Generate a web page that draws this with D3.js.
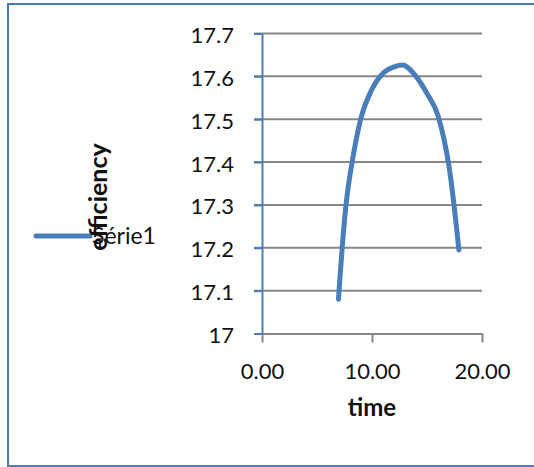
<!DOCTYPE html>
<html>
<head>
<meta charset="utf-8">
<script src="https://cdn.jsdelivr.net/npm/d3@7"></script>
<style>
  body { margin: 0; background: #fff; }
  text { font-family: Lato, "Open Sans", sans-serif; fill: #111; }
</style>
</head>
<body>
<div id="container"></div>
<script>
// DATA
const times = [6.95, 7.5, 8, 9, 10, 11, 12, 13, 14, 15, 16, 17, 17.9];
const efficiency = [17.08, 17.265, 17.37, 17.503, 17.57, 17.607, 17.622, 17.625, 17.6, 17.56, 17.508, 17.39, 17.195];
const yTicks = [17, 17.1, 17.2, 17.3, 17.4, 17.5, 17.6, 17.7];
const xTicks = [0, 10, 20];
const seriesName = "Série1";
const xTitle = "time";
const yTitle = "efficiency";

const width = 534, height = 467;
const blue = "#4a7ebb", grid = "#868686";

const data = times.map((t, i) => ({ t: t, v: efficiency[i] }));

// SCALES
const x = d3.scaleLinear().domain([0, 20]).range([262, 482]);
const y = d3.scaleLinear().domain([17, 17.7]).range([333.5, 33.5]);

const svg = d3.select("#container").append("svg")
  .attr("width", width)
  .attr("height", height);

// chart border
svg.append("rect")
  .attr("x", 8).attr("y", 4)
  .attr("width", 540).attr("height", 462)
  .attr("fill", "none")
  .attr("stroke", blue)
  .attr("stroke-width", 2);

// gridlines
svg.append("g").selectAll("line")
  .data(yTicks.slice(1))
  .join("line")
  .attr("x1", 254).attr("x2", x(20))
  .attr("y1", d => y(d)).attr("y2", d => y(d))
  .attr("stroke", grid)
  .attr("stroke-width", 2);

// x axis
const xAxis = svg.append("g")
  .attr("transform", `translate(0,${y(17)})`)
  .call(d3.axisBottom(x).tickValues(xTicks).tickFormat(d3.format(".2f")).tickSize(9).tickSizeOuter(0));
xAxis.select(".domain").attr("stroke", grid).attr("stroke-width", 2);
xAxis.selectAll(".tick line").attr("stroke", grid).attr("stroke-width", 2);
xAxis.selectAll(".tick text")
  .attr("y", 45).attr("dy", 0)
  .attr("font-size", 22)
  .attr("fill", "#111");
xAxis.attr("font-family", null);

// y axis
const yAxis = svg.append("g")
  .attr("transform", `translate(${x(0)},0)`)
  .call(d3.axisLeft(y).tickValues(yTicks).tickFormat(d => d3.format("")(+d.toFixed(1))).tickSize(8).tickSizeOuter(0));
yAxis.select(".domain").attr("stroke", blue).attr("stroke-width", 2);
yAxis.selectAll(".tick line").attr("stroke", blue).attr("stroke-width", 2);
yAxis.selectAll(".tick text")
  .attr("x", -28).attr("dy", 9)
  .attr("font-size", 22)
  .attr("fill", "#111");
yAxis.attr("font-family", null);

// series line
const line = d3.line()
  .x(d => x(d.t))
  .y(d => y(d.v))
  .curve(d3.curveCatmullRom.alpha(0));

svg.append("path")
  .datum(data)
  .attr("d", line)
  .attr("fill", "none")
  .attr("stroke", blue)
  .attr("stroke-width", 5)
  .attr("stroke-linecap", "round")
  .attr("stroke-linejoin", "round");

// x title
svg.append("text")
  .attr("x", x(10)).attr("y", 416)
  .attr("text-anchor", "middle")
  .attr("font-size", 24)
  .attr("font-weight", "bold")
  .text(xTitle);

// legend
svg.append("line")
  .attr("x1", 36).attr("x2", 90)
  .attr("y1", 236).attr("y2", 236)
  .attr("stroke", blue)
  .attr("stroke-width", 5)
  .attr("stroke-linecap", "round");
svg.append("text")
  .attr("x", 92).attr("y", 244)
  .attr("font-size", 23)
  .text(seriesName);

// y title (drawn over the legend, as in the original)
svg.append("text")
  .attr("transform", "translate(107,197) rotate(-90)")
  .attr("text-anchor", "middle")
  .attr("font-size", 25)
  .attr("font-weight", "bold")
  .text(yTitle);
</script>
</body>
</html>
